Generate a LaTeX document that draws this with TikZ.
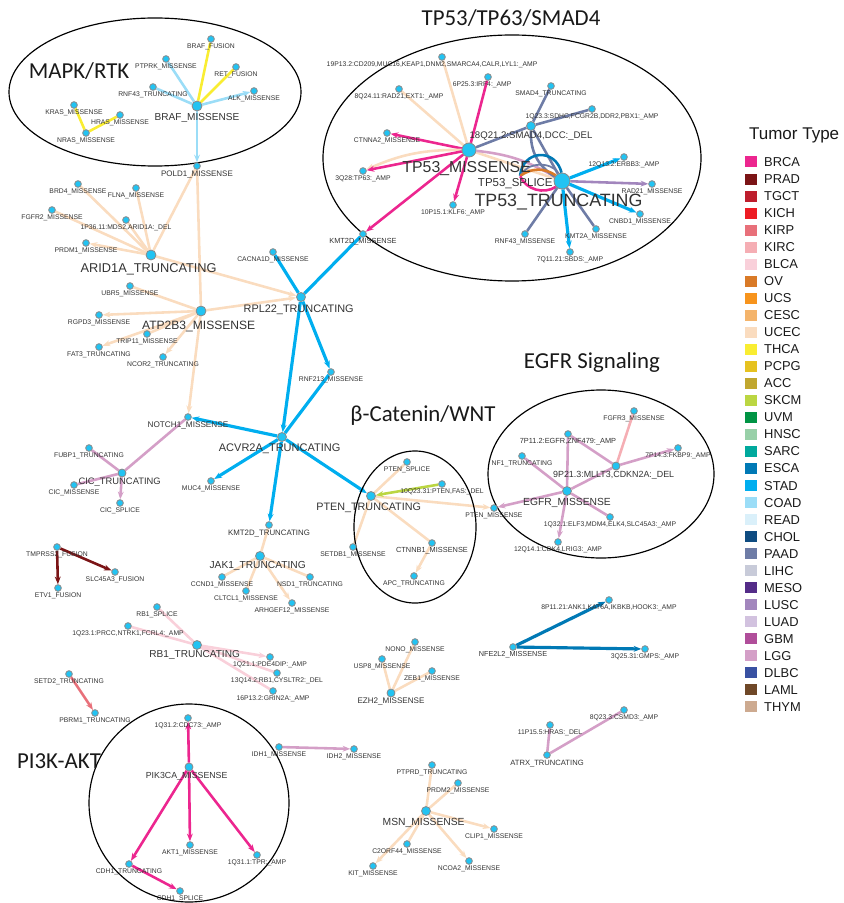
\documentclass[tikz,border=0pt]{standalone}
\usepackage{fontspec}
\setmainfont{Liberation Sans}
\newfontfamily\titlefont{Carlito}
\usetikzlibrary{shapes, arrows.meta, backgrounds}

\definecolor{BRCA}{HTML}{EC268F}
\definecolor{PRAD}{HTML}{7B1416}
\definecolor{TGCT}{HTML}{BE1E2D}
\definecolor{KICH}{HTML}{ED1C24}
\definecolor{KIRP}{HTML}{E8707A}
\definecolor{KIRC}{HTML}{F5AEB4}
\definecolor{BLCA}{HTML}{F9D0DA}
\definecolor{OV}{HTML}{D97A27}
\definecolor{UCS}{HTML}{F7941D}
\definecolor{CESC}{HTML}{F4B46B}
\definecolor{UCEC}{HTML}{FADCBF}
\definecolor{THCA}{HTML}{F9ED32}
\definecolor{PCPG}{HTML}{E6C220}
\definecolor{ACC}{HTML}{C1A72F}
\definecolor{SKCM}{HTML}{BBD642}
\definecolor{UVM}{HTML}{009444}
\definecolor{HNSC}{HTML}{98D0A8}
\definecolor{SARC}{HTML}{00A99D}
\definecolor{ESCA}{HTML}{0079B5}
\definecolor{STAD}{HTML}{00AEEF}
\definecolor{COAD}{HTML}{9BDDF7}
\definecolor{READ}{HTML}{DAF0FA}
\definecolor{CHOL}{HTML}{0F4C81}
\definecolor{PAAD}{HTML}{6E7CA6}
\definecolor{LIHC}{HTML}{C8CBD9}
\definecolor{MESO}{HTML}{542C88}
\definecolor{LUSC}{HTML}{A286BD}
\definecolor{LUAD}{HTML}{D2C2DF}
\definecolor{GBM}{HTML}{B04E9A}
\definecolor{LGG}{HTML}{D49FC7}
\definecolor{DLBC}{HTML}{3951A2}
\definecolor{LAML}{HTML}{6F4828}
\definecolor{THYM}{HTML}{CDAA90}
\definecolor{dotfill}{HTML}{22C3F2}
\definecolor{dotrim}{HTML}{8A8A8A}
\definecolor{txtgray}{HTML}{333333}

\newcommand{\fsz}[1]{\fontsize{#1}{#1}\selectfont}

\begin{document}
\begin{tikzpicture}[x=0.03cm, y=-0.03cm,
gene/.style={circle, fill=dotfill, draw=dotrim, line width=0.7pt, inner sep=0pt, minimum size=2mm},
hub/.style={gene, minimum size=#1},
ghost/.style={inner sep=0pt, minimum size=0pt},
every label/.style={inner sep=0.6pt, text=txtgray},
tag/.style={label={[font=\fsz{5.8}]below:{#1}}},
tagx/.style 2 args={label={[font=\fsz{5.8}, xshift=#1]below:{#2}}},
tagb/.style n args={3}{label={[font=\fsz{#1}, xshift=#2]below:{#3}}},
group/.style={draw, ellipse, line width=1pt, inner sep=0pt},
grouptitle/.style={font=\titlefont\fsz{19.5}, text=black!90},
ln/.style={draw=#1, line width=2.2pt},
ar/.style={ln=#1, -{Stealth[length=6.5pt, width=5pt]}},
thick/.style={line width=2.7pt},
swatch/.style={rectangle, minimum width=3.6mm, minimum height=3.3mm, inner sep=0pt},
]
\useasboundingbox (0,0) rectangle (843,903);

%Groups
\node [group, minimum width=8.76cm, minimum height=4.44cm] (mapk) at (155,92) {};
\node [group, minimum width=11.34cm, minimum height=7.38cm] (tp53grp) at (512,158) {};
\node [group, minimum width=3.66cm, minimum height=4.56cm] (wnt) at (415,527) {};
\node [group, minimum width=6.78cm, minimum height=5.04cm] (egfrgrp) at (601,474) {};
\node [group, minimum width=6cm, minimum height=5.94cm] (pi3k) at (189,803) {};
\node [grouptitle] (mapk-t) at (79,71) {MAPK/RTK};
\node [grouptitle] (tp53grp-t) at (511,18) {TP53/TP63/SMAD4};
\node [grouptitle] (wnt-t) at (423,416) {β-Catenin/WNT};
\node [grouptitle] (egfrgrp-t) at (592,363) {EGFR Signaling};
\node [grouptitle] (pi3k-t) at (59,761) {PI3K-AKT};

%Nodes
\node [gene, tag=BRAF\_FUSION] (braf_fus) at (211,39) {};
\node [gene, tag=PTPRK\_MISSENSE] (ptprk) at (166,59) {};
\node [gene, tag=RET\_FUSION] (ret_fus) at (236,67) {};
\node [gene, tag=RNF43\_TRUNCATING] (rnf43t) at (153,87) {};
\node [gene, tag=ALK\_MISSENSE] (alk) at (254,91) {};
\node [hub=3mm, tagb={8.6}{0pt, yshift=-1pt}{BRAF\_MISSENSE}] (braf) at (197,106) {};
\node [gene, tag=KRAS\_MISSENSE] (kras) at (74,105) {};
\node [gene, tag=HRAS\_MISSENSE] (hras) at (120,115) {};
\node [gene, tag=NRAS\_MISSENSE] (nras) at (86,133) {};
\node [gene, tagb={6.8}{0pt}{POLD1\_MISSENSE}] (pold1) at (197,166) {};

\node [gene, tagx={-8.5pt}{19P13.2:CD209,MUC16,KEAP1,DNM2,SMARCA4,CALR,LYL1:\_AMP}] (c19p) at (442,57) {};
\node [gene, tagx={-5pt}{6P25.3:IRF4:\_AMP}] (c6p) at (488,77) {};
\node [gene, tag={8Q24.11:RAD21,EXT1:\_AMP}] (c8q24) at (399,89) {};
\node [gene, tag=SMAD4\_TRUNCATING] (smad4t) at (551,86) {};
\node [gene, tag={1Q23.3:SDHC,FCGR2B,DDR2,PBX1:\_AMP}] (c1q23) at (592,109) {};
\node [hub=2.7mm, tagb={8.2}{0pt}{18Q21.2:SMAD4,DCC:\_DEL}] (c18q) at (531,126) {};
\node [gene, tag=CTNNA2\_MISSENSE] (ctnna2) at (387,133) {};
\node [ghost, tagb={9.8}{-4pt, yshift=-1pt}{TP53\_SPLICE}] (tp53s) at (520,176) {};
\node [hub=4.2mm, tagb={13.5}{-2pt, yshift=-3pt}{TP53\_MISSENSE}] (tp53m) at (469,150) {};
\node [gene, tag={3Q28:TP63:\_AMP}] (c3q28) at (363,171) {};
\node [gene, tag={10P15.1:KLF6:\_AMP}] (c10p) at (453,205) {};
\node [gene, tag={12Q13.2:ERBB3:\_AMP}] (c12q13) at (624,157) {};
\node [gene, tag=RAD21\_MISSENSE] (rad21) at (652,184) {};
\node [gene, tag=CNBD1\_MISSENSE] (cnbd1) at (640,214) {};
\node [gene, tag=KMT2A\_MISSENSE] (kmt2a) at (596,229) {};
\node [gene, tag=RNF43\_MISSENSE] (rnf43m) at (525,234) {};
\node [gene, tag={7Q11.21:SBDS:\_AMP}] (c7q11) at (570,252) {};
\node [hub=4.8mm, tagb={15.2}{-3pt, yshift=-3pt}{TP53\_TRUNCATING}] (tp53t) at (562,181) {};
\node [gene, tagb={6.3}{0pt}{KMT2D\_MISSENSE}] (kmt2dm) at (363,234) {};

\node [gene, tag=BRD4\_MISSENSE] (brd4) at (78,184) {};
\node [gene, tag=FLNA\_MISSENSE] (flna) at (136,188) {};
\node [gene, tag=FGFR2\_MISSENSE] (fgfr2) at (52,210) {};
\node [gene, tag={1P36.11:MDS2,ARID1A:\_DEL}] (c1p36) at (126,220) {};
\node [gene, tag=PRDM1\_MISSENSE] (prdm1) at (86,243) {};
\node [hub=3mm, tagb={10.9}{-2pt, yshift=-2pt}{ARID1A\_TRUNCATING}] (arid1a) at (151,255) {};
\node [gene, tag=UBR5\_MISSENSE] (ubr5) at (130,286) {};
\node [hub=3mm, tagb={10.3}{-2pt, yshift=-3pt}{ATP2B3\_MISSENSE}] (atp2b3) at (201,311) {};
\node [gene, tag=RGPD3\_MISSENSE] (rgpd3) at (99,315) {};
\node [gene, tag=TRIP11\_MISSENSE] (trip11) at (147,334) {};
\node [gene, tag=FAT3\_TRUNCATING] (fat3) at (99,347) {};
\node [gene, tag=NCOR2\_TRUNCATING] (ncor2) at (163,357) {};
\node [gene, tag=CACNA1D\_MISSENSE] (cacna1d) at (273,252) {};
\node [hub=2.7mm, tagb={9.3}{-2pt, yshift=-2pt}{RPL22\_TRUNCATING}] (rpl22) at (301,297) {};
\node [gene, tag=RNF213\_MISSENSE] (rnf213) at (331,372) {};

\node [gene, tagb={7}{0pt}{NOTCH1\_MISSENSE}] (notch1) at (188,417) {};
\node [hub=2.7mm, tagb={9.4}{-2pt, yshift=-1pt}{ACVR2A\_TRUNCATING}] (acvr2a) at (282,437) {};
\node [gene, tag=MUC4\_MISSENSE] (muc4) at (211,481) {};
\node [gene, tagb={6.7}{0pt}{KMT2D\_TRUNCATING}] (kmt2dt) at (269,525) {};
\node [hub=2.7mm, tagb={8.7}{-2pt}{JAK1\_TRUNCATING}] (jak1) at (260,556) {};
\node [gene, tag=CCND1\_MISSENSE] (ccnd1) at (222,577) {};
\node [gene, tag=CLTCL1\_MISSENSE] (cltcl1) at (246,591) {};
\node [gene, tag=NSD1\_TRUNCATING] (nsd1) at (310,577) {};
\node [gene, tag=ARHGEF12\_MISSENSE] (arhgef12) at (292,603) {};
\node [gene, tag=FUBP1\_TRUNCATING] (fubp1) at (89,448) {};
\node [hub=2.4mm, tagb={8}{-2pt}{CIC\_TRUNCATING}] (cict) at (122,473) {};
\node [gene, tag=CIC\_MISSENSE] (cicm) at (74,485) {};
\node [gene, tag=CIC\_SPLICE] (cics) at (120,503) {};

\node [gene, tag=PTEN\_SPLICE] (ptens) at (407,462) {};
\node [gene, tag={10Q23.31:PTEN,FAS:\_DEL}] (c10q) at (442,484) {};
\node [hub=2.7mm, tagb={9.2}{-2pt, yshift=-1pt}{PTEN\_TRUNCATING}] (ptent) at (371,496) {};
\node [gene, tag=SETDB1\_MISSENSE] (setdb1) at (353,547) {};
\node [gene, tagb={6.3}{0pt}{CTNNB1\_MISSENSE}] (ctnnb1) at (432,543) {};
\node [gene, tag=APC\_TRUNCATING] (apc) at (414,576) {};
\node [gene, tag=PTEN\_MISSENSE] (ptenm) at (494,508) {};

\node [gene, tag=FGFR3\_MISSENSE] (fgfr3) at (634,411) {};
\node [gene, tagb={6.3}{0pt}{7P11.2:EGFR,ZNF479:\_AMP}] (c7p11) at (568,434) {};
\node [gene, tag={7P14.3:FKBP9:\_AMP}] (c7p14) at (678,448) {};
\node [gene, tag=NF1\_TRUNCATING] (nf1) at (522,456) {};
\node [hub=2.4mm, tagb={7.6}{-2pt}{9P21.3:MLLT3,CDKN2A:\_DEL}] (c9p21) at (616,466) {};
\node [hub=2.7mm, tagb={8.8}{0pt, yshift=-1pt}{EGFR\_MISSENSE}] (egfr) at (567,491) {};
\node [gene, tag={1Q32.1:ELF3,MDM4,ELK4,SLC45A3:\_AMP}] (c1q32) at (610,517) {};
\node [gene, tag={12Q14.1:CDK4,LRIG3:\_AMP}] (c12q14) at (558,542) {};

\node [gene, tag=TMPRSS2\_FUSION] (tmprss2) at (57,547) {};
\node [gene, tag=SLC45A3\_FUSION] (slc45a3) at (115,572) {};
\node [gene, tag=ETV1\_FUSION] (etv1) at (58,588) {};
\node [gene, tag=RB1\_SPLICE] (rb1s) at (157,607) {};
\node [gene, tag={1Q23.1:PRCC,NTRK1,FCRL4:\_AMP}] (c1q23b) at (128,626) {};
\node [hub=2.7mm, tagb={8.6}{-2pt}{RB1\_TRUNCATING}] (rb1t) at (197,645) {};
\node [gene, tag={1Q21.1:PDE4DIP:\_AMP}] (c1q21) at (270,657) {};
\node [gene, tag={13Q14.2:RB1,CYSLTR2:\_DEL}] (c13q14) at (277,673) {};
\node [gene, tag={16P13.2:GRIN2A:\_AMP}] (c16p13) at (273,691) {};
\node [gene, tag=SETD2\_TRUNCATING] (setd2) at (69,674) {};
\node [gene, tag=PBRM1\_TRUNCATING] (pbrm1) at (95,713) {};
\node [gene, tag=IDH1\_MISSENSE] (idh1) at (279,747) {};
\node [gene, tag=IDH2\_MISSENSE] (idh2) at (354,749) {};

\node [gene, tag={1Q31.2:CDC73:\_AMP}] (c1q31b) at (188,718) {};
\node [hub=2.4mm, tagb={7.5}{-2pt}{PIK3CA\_MISSENSE}] (pik3ca) at (189,767) {};
\node [gene, tag=AKT1\_MISSENSE] (akt1) at (190,845) {};
\node [gene, tag={1Q31.1:TPR:\_AMP}] (c1q31a) at (257,855) {};
\node [gene, tag=CDH1\_TRUNCATING] (cdh1t) at (129,864) {};
\node [gene, tag=CDH1\_SPLICE] (cdh1s) at (180,891) {};

\node [gene, tag=NONO\_MISSENSE] (nono) at (415,642) {};
\node [gene, tag=USP8\_MISSENSE] (usp8) at (382,659) {};
\node [gene, tag=ZEB1\_MISSENSE] (zeb1) at (432,671) {};
\node [hub=2.4mm, tagb={6.9}{0pt}{EZH2\_MISSENSE}] (ezh2) at (391,693) {};
\node [gene, tagb={6.2}{0pt}{NFE2L2\_MISSENSE}] (nfe2l2) at (513,647) {};
\node [gene, tag={8P11.21:ANK1,KAT6A,IKBKB,HOOK3:\_AMP}] (c8p11) at (609,600) {};
\node [gene, tag={3Q25.31:GMPS:\_AMP}] (c3q25) at (645,649) {};
\node [gene, tag={8Q23.3:CSMD3:\_AMP}] (c8q23) at (624,710) {};
\node [gene, tag={11P15.5:HRAS:\_DEL}] (c11p15) at (550,725) {};
\node [gene, tagb={6.5}{0pt}{ATRX\_TRUNCATING}] (atrx) at (547,755) {};
\node [gene, tag=PTPRD\_TRUNCATING] (ptprd) at (432,765) {};
\node [gene, tag=PRDM2\_MISSENSE] (prdm2) at (458,783) {};
\node [hub=2.7mm, tagb={8.8}{-2pt, yshift=-1pt}{MSN\_MISSENSE}] (msn) at (426,811) {};
\node [gene, tag=CLIP1\_MISSENSE] (clip1) at (494,829) {};
\node [gene, tag=C2ORF44\_MISSENSE] (c2orf44) at (407,844) {};
\node [gene, tag=KIT\_MISSENSE] (kit) at (373,866) {};
\node [gene, tag=NCOA2\_MISSENSE] (ncoa2) at (469,861) {};

% Legend
\node [anchor=west, font=\fsz{14.5}, text=black!90] (legend) at (745,135) {Tumor Type};
\foreach \t [count=\i] in {BRCA,PRAD,TGCT,KICH,KIRP,KIRC,BLCA,OV,UCS,CESC,UCEC,THCA,PCPG,ACC,SKCM,UVM,HNSC,SARC,ESCA,STAD,COAD,READ,CHOL,PAAD,LIHC,MESO,LUSC,LUAD,GBM,LGG,DLBC,LAML,THYM}{
  \node [swatch, fill=\t] (sw-\t) at (751,{162+17.03*(\i-1)}) {};
  \node [anchor=west, font=\fsz{11}, inner sep=0pt, text=black!90] (lg-\t) at (764,{162+17.03*(\i-1)}) {\t};
}

% Paths
\begin{scope}[on background layer]
\draw [ln=THCA] (braf) -- (braf_fus);
\draw [ln=THCA] (braf) -- (ret_fus);
\draw [ln=COAD] (braf) -- (ptprk);
\draw [ln=COAD] (braf) -- (rnf43t);
\draw [ar=COAD] (braf) -- (alk);
\draw [ar=COAD] (braf) -- (pold1);
\draw [ln=THCA] (kras) -- (nras);
\draw [ln=THCA] (nras) -- (hras);

\draw [ln=UCEC] (tp53m) -- (c19p);
\draw [ln=UCEC] (tp53m) -- (c8q24);
\draw [ln=BRCA] (tp53m) -- (c6p);
\draw [ar=BRCA] (tp53m) -- (ctnna2);
\draw [ar=UCEC] (tp53m) to [bend right=12] (c3q28);
\draw [ar=BRCA] (tp53m) -- (c3q28);
\draw [ar=BRCA] (tp53m) -- (c10p);
\draw [ar=BRCA] (tp53m) -- (kmt2dm);
\draw [ln=UCEC] (tp53m) -- (tp53t);
\draw [ln=LGG] (tp53m) to [bend left=12] (tp53t);
\draw [ln=PAAD] (tp53m) -- (c18q);
\draw [ln=PAAD] (c18q) -- (smad4t);
\draw [ln=PAAD] (c18q) -- (c1q23);
\draw [ln=PAAD] (c18q) -- (tp53t);
\draw [ln=PAAD] (c18q) to [bend right=30] (tp53t);
\draw [ln=ESCA] (tp53s) to [bend left=80, looseness=1.6] (tp53t);
\draw [ln=PAAD, line width=1.5pt] (tp53s) to [bend left=60] (tp53t);
\draw [ln=OV] (tp53s) to [bend left=35] (tp53t);
\draw [ln=BRCA] (tp53s) to [bend right=50] (tp53t);
\draw [ar=STAD, thick] (tp53t) -- (c12q13);
\draw [ar=LUSC] (tp53t) -- (rad21);
\draw [ar=STAD, thick] (tp53t) -- (cnbd1);
\draw [ln=PAAD] (tp53t) -- (kmt2a);
\draw [ar=STAD, thick] (tp53t) -- (c7q11);
\draw [ln=PAAD] (tp53t) -- (rnf43m);

\draw [ln=UCEC] (arid1a) -- (brd4);
\draw [ln=UCEC] (arid1a) -- (flna);
\draw [ln=UCEC] (arid1a) -- (fgfr2);
\draw [ln=UCEC] (arid1a) -- (c1p36);
\draw [ar=UCEC] (arid1a) -- (prdm1);
\draw [ln=UCEC] (arid1a) -- (pold1);
\draw [ar=UCEC] (arid1a) -- (rpl22);
\draw [ln=UCEC] (pold1) -- (atp2b3);
\draw [ln=UCEC] (atp2b3) -- (ubr5);
\draw [ar=UCEC] (atp2b3) -- (rgpd3);
\draw [ln=UCEC] (atp2b3) -- (trip11);
\draw [ar=UCEC] (atp2b3) -- (fat3);
\draw [ar=UCEC] (atp2b3) -- (ncor2);
\draw [ar=UCEC] (atp2b3) -- (rpl22);
\draw [ar=UCEC] (atp2b3) -- (notch1);

\draw [ln=STAD, thick] (rpl22) -- (cacna1d);
\draw [ln=STAD, thick] (rpl22) -- (kmt2dm);
\draw [ar=STAD, thick] (rpl22) -- (rnf213);
\draw [ar=STAD, thick] (rpl22) -- (acvr2a);
\draw [ln=STAD, thick] (rnf213) -- (acvr2a);
\draw [ar=STAD, thick] (acvr2a) -- (notch1);
\draw [ar=STAD, thick] (acvr2a) -- (muc4);
\draw [ar=STAD, thick] (acvr2a) -- (kmt2dt);
\draw [ar=STAD, thick] (acvr2a) -- (ptent);
\draw [ln=UCEC] (kmt2dt) -- (jak1);
\draw [ln=UCEC] (jak1) -- (ccnd1);
\draw [ln=UCEC] (jak1) -- (cltcl1);
\draw [ln=UCEC] (jak1) -- (nsd1);
\draw [ar=UCEC] (jak1) -- (arhgef12);
\draw [ln=LGG] (notch1) -- (cict);
\draw [ln=LGG] (cict) -- (fubp1);
\draw [ln=LGG] (cict) -- (cicm);
\draw [ar=LGG] (cict) -- (cics);

\draw [ln=UCEC] (ptent) -- (ptens);
\draw [ln=UCEC] (ptent) -- (setdb1);
\draw [ln=UCEC] (ptent) -- (ctnnb1);
\draw [ar=UCEC] (ptent) -- (ptenm);
\draw [ar=SKCM] (c10q) -- (ptent);
\draw [ar=UCEC] (ctnnb1) -- (apc);

\draw [ln=LGG] (egfr) -- (c7p11);
\draw [ln=LGG] (egfr) -- (nf1);
\draw [ln=LGG] (egfr) -- (c9p21);
\draw [ar=LGG] (egfr) -- (ptenm);
\draw [ln=LGG] (egfr) -- (c1q32);
\draw [ar=LGG] (egfr) -- (c12q14);
\draw [ar=LGG] (c9p21) -- (c7p14);
\draw [ln=LGG] (c9p21) -- (c7p11);
\draw [ln=KIRC] (c9p21) -- (fgfr3);

\draw [ar=PRAD] (tmprss2) -- (slc45a3);
\draw [ar=PRAD] (tmprss2) -- (etv1);
\draw [ln=BLCA] (rb1t) -- (rb1s);
\draw [ln=BLCA] (rb1t) -- (c1q23b);
\draw [ar=BLCA] (rb1t) -- (c1q21);
\draw [ln=BLCA] (rb1t) -- (c13q14);
\draw [ln=BLCA] (rb1t) -- (c16p13);
\draw [ar=KIRP] (setd2) -- (pbrm1);
\draw [ar=LGG] (idh1) -- (idh2);

\draw [ar=BRCA] (pik3ca) -- (c1q31b);
\draw [ar=BRCA] (pik3ca) -- (akt1);
\draw [ar=BRCA] (pik3ca) -- (c1q31a);
\draw [ar=BRCA] (pik3ca) -- (cdh1t);
\draw [ar=BRCA] (cdh1t) -- (cdh1s);

\draw [ln=UCEC] (ezh2) -- (nono);
\draw [ln=UCEC] (ezh2) -- (usp8);
\draw [ln=UCEC] (ezh2) -- (zeb1);
\draw [ar=ESCA, thick] (nfe2l2) -- (c8p11);
\draw [ar=ESCA, thick] (nfe2l2) -- (c3q25);
\draw [ln=LGG] (atrx) -- (c11p15);
\draw [ln=LGG] (atrx) -- (c8q23);
\draw [ln=UCEC] (msn) -- (ptprd);
\draw [ln=UCEC] (msn) -- (prdm2);
\draw [ar=UCEC] (msn) -- (clip1);
\draw [ln=UCEC] (msn) -- (c2orf44);
\draw [ar=UCEC] (msn) -- (kit);
\draw [ar=UCEC] (msn) -- (ncoa2);
\end{scope}
\end{tikzpicture}
\end{document}
